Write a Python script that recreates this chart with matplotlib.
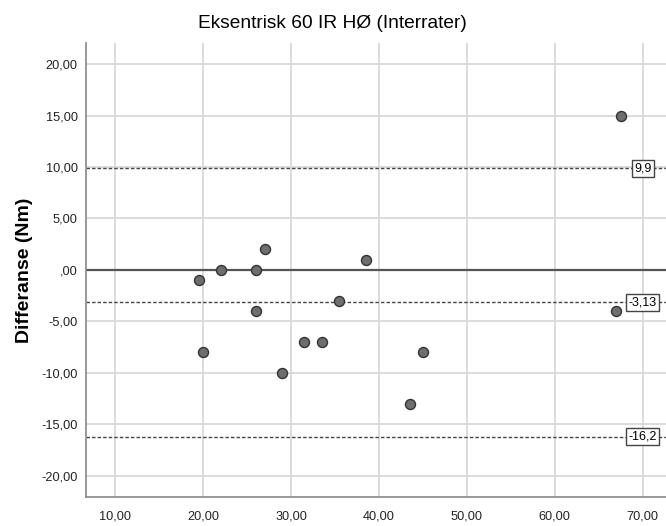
import numpy as np
import matplotlib
matplotlib.use('Agg')
import matplotlib.pyplot as plt
from matplotlib.ticker import FuncFormatter

# 数据：均值 (x) 与差值 (y)
mean_vals = [19.5, 22.0, 26.0, 27.0, 26.0, 20.0, 31.5, 33.5, 29.0, 35.5, 38.5, 43.5, 45.0, 67.5, 67.0]
diff_vals = [-1, 0, 0, 2, -4, -8, -7, -7, -10, -3, 1, -13, -8, 15, -4]

# 一致性界限
loa_values = [9.9, -3.13, -16.2]
loa_labels = ['9,9', '-3,13', '-16,2']

x_ticks = [10, 20, 30, 40, 50, 60, 70]
y_ticks = [20, 15, 10, 5, 0, -5, -10, -15, -20]

plt.rcParams['font.family'] = ['Liberation Sans', 'DejaVu Sans']

fig = plt.figure(figsize=(6.66, 5.26), dpi=100)
ax = fig.add_axes([0.129, 0.0551, 0.871, 0.8637])

ax.set_xlim(6.67, 72.65)
ax.set_ylim(-22.08, 22.08)

ax.set_xticks(x_ticks)
ax.set_yticks(y_ticks)


def comma_fmt(v, pos):
    s = f'{v:.2f}'.replace('.', ',')
    if s.startswith('0,'):
        s = s[1:]
    if s.startswith('-0,'):
        s = '-' + s[2:]
    return s


ax.xaxis.set_major_formatter(FuncFormatter(comma_fmt))
ax.yaxis.set_major_formatter(FuncFormatter(comma_fmt))
ax.tick_params(axis='both', length=0, labelsize=9.2, colors='#222222')
ax.tick_params(axis='x', pad=10)
ax.tick_params(axis='y', pad=6)

ax.grid(True, color='#d9d9d9', linewidth=1.3)
ax.set_axisbelow(True)
for s in ['top', 'right']:
    ax.spines[s].set_visible(False)
for s in ['left', 'bottom']:
    ax.spines[s].set_color('#888888')
    ax.spines[s].set_linewidth(1.2)

# 零线
ax.axhline(0, color='#555555', linewidth=1.6, zorder=2)

# 界限虚线 + 标签
for v, lab in zip(loa_values, loa_labels):
    ax.axhline(v, color='#444444', linewidth=1.0, linestyle=(0, (2.5, 1.5)), zorder=2)
    ax.text(70, v, lab, ha='center', va='center', fontsize=9, zorder=5,
            bbox=dict(boxstyle='square,pad=0.2', facecolor='white', edgecolor='#444444', linewidth=1.0))

ax.scatter(mean_vals, diff_vals, s=52, facecolor='#6e6e6e', edgecolor='#333333', linewidth=1.0, zorder=4)

ax.set_ylabel('Differanse (Nm)', fontsize=14, fontweight='bold', labelpad=6)
fig.text(0.499, 0.956, 'Eksentrisk 60 IR HØ (Interrater)', ha='center', va='center', fontsize=13.8)

plt.savefig('out.png', dpi=100)
